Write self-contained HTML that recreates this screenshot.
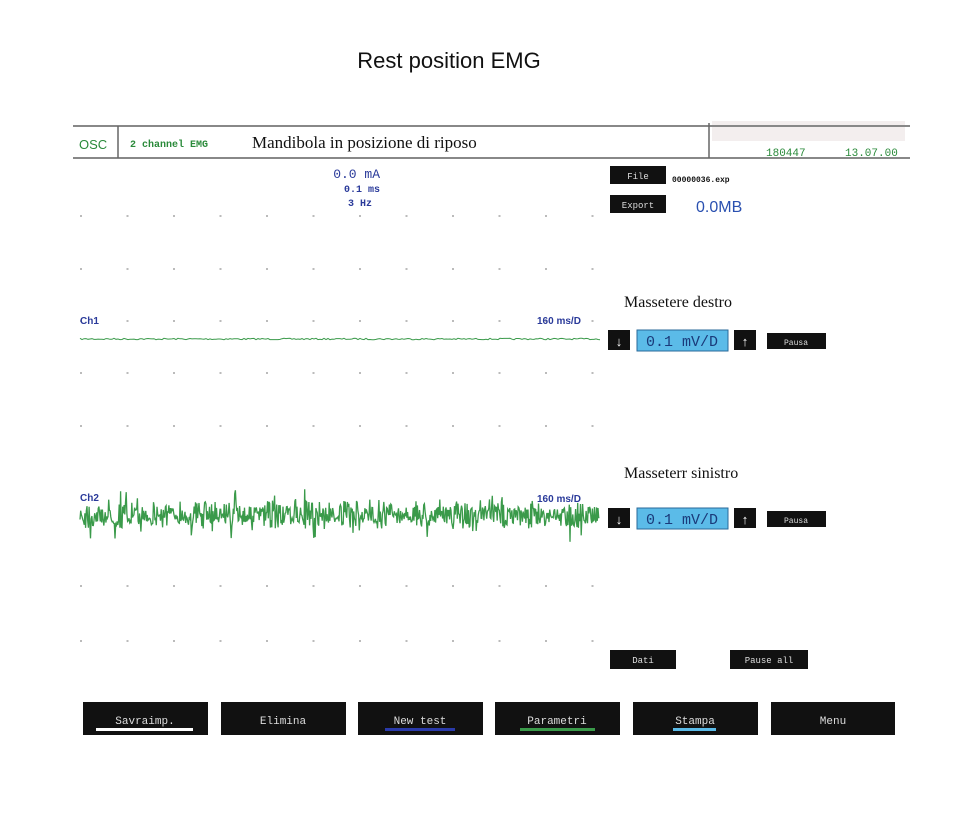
<!DOCTYPE html>
<html><head><meta charset="utf-8"><style>
html,body{margin:0;padding:0;background:#fff;}
svg{display:block;}
.m{font-family:"Liberation Mono",monospace;}
.s{font-family:"Liberation Sans",sans-serif;}
.r{font-family:"Liberation Serif",serif;}
</style></head><body>
<svg id="sv" width="956" height="834" viewBox="0 0 956 834" xmlns="http://www.w3.org/2000/svg">
<rect width="956" height="834" fill="#fff"/>
<text x="449" y="68" text-anchor="middle" class="s" font-size="22" fill="#111">Rest position EMG</text>
<rect x="712" y="121" width="193" height="20" fill="#f3eeee"/>
<line x1="73" y1="126" x2="910" y2="126" stroke="#888" stroke-width="2"/>
<line x1="73" y1="158" x2="910" y2="158" stroke="#888" stroke-width="2"/>
<line x1="118" y1="126" x2="118" y2="158" stroke="#666" stroke-width="1.5"/>
<line x1="709" y1="123" x2="709" y2="158" stroke="#666" stroke-width="1.5"/>
<text x="79" y="149" class="s" font-size="13" fill="#2a8a3a">OSC</text>
<text x="130" y="147" class="m" font-size="10" fill="#2a8a3a" font-weight="bold">2 channel EMG</text>
<text x="252" y="148" class="r" font-size="17" fill="#111">Mandibola in posizione di riposo</text>
<text x="766" y="156" class="m" font-size="11" fill="#2a8a3a">180447</text>
<text x="845" y="156" class="m" font-size="11" fill="#2a8a3a">13.07.00</text>
<text x="380" y="178" text-anchor="end" class="m" font-size="13" fill="#2a3a9a">0.0 mA</text>
<text x="380" y="192" text-anchor="end" class="m" font-size="10" fill="#2a3a9a" font-weight="bold">0.1 ms</text>
<text x="372" y="206" text-anchor="end" class="m" font-size="10" fill="#2a3a9a" font-weight="bold">3 Hz</text>
<rect x="610" y="166" width="56" height="18" fill="#111"/>
<text x="638" y="179" text-anchor="middle" class="m" font-size="9" fill="#ddd">File</text>
<text x="672" y="182" class="m" font-size="8" fill="#111" font-weight="bold">00000036.exp</text>
<rect x="610" y="195" width="56" height="18" fill="#111"/>
<text x="638" y="208" text-anchor="middle" class="m" font-size="9" fill="#ddd">Export</text>
<text x="696" y="212" class="s" font-size="16" fill="#2a50b0">0.0MB</text>
<g id="dots" fill="#bbb"></g>
<text x="80" y="324" class="s" font-size="10" fill="#2a3a9a" font-weight="bold">Ch1</text>
<text x="537" y="324" class="s" font-size="10" fill="#2a3a9a" font-weight="bold">160 ms/D</text>
<polyline id="t1" fill="none" stroke="#3a9a4a" stroke-width="1"/>
<text x="624" y="307" class="r" font-size="16" fill="#111">Massetere destro</text>
<g>
<rect x="608" y="330" width="22" height="20" fill="#111"/><text x="619" y="346" text-anchor="middle" class="s" font-size="13" fill="#fff">↓</text>
<rect x="637" y="330" width="91" height="21" fill="#5bbbe8" stroke="#2a6a9a"/><text x="682" y="346" text-anchor="middle" class="m" font-size="15" fill="#1a3a7a">0.1 mV/D</text>
<rect x="734" y="330" width="22" height="20" fill="#111"/><text x="745" y="346" text-anchor="middle" class="s" font-size="13" fill="#fff">↑</text>
<rect x="767" y="333" width="59" height="16" fill="#111"/><text x="796" y="345" text-anchor="middle" class="m" font-size="8" fill="#ddd">Pausa</text>
</g>
<text x="80" y="501" class="s" font-size="10" fill="#2a3a9a" font-weight="bold">Ch2</text>
<text x="537" y="502" class="s" font-size="10" fill="#2a3a9a" font-weight="bold">160 ms/D</text>
<polyline id="t2" fill="none" stroke="#3a9a4a" stroke-width="1.3"/>
<text x="624" y="478" class="r" font-size="16" fill="#111">Masseterr sinistro</text>
<g transform="translate(0,178)">
<rect x="608" y="330" width="22" height="20" fill="#111"/><text x="619" y="346" text-anchor="middle" class="s" font-size="13" fill="#fff">↓</text>
<rect x="637" y="330" width="91" height="21" fill="#5bbbe8" stroke="#2a6a9a"/><text x="682" y="346" text-anchor="middle" class="m" font-size="15" fill="#1a3a7a">0.1 mV/D</text>
<rect x="734" y="330" width="22" height="20" fill="#111"/><text x="745" y="346" text-anchor="middle" class="s" font-size="13" fill="#fff">↑</text>
<rect x="767" y="333" width="59" height="16" fill="#111"/><text x="796" y="345" text-anchor="middle" class="m" font-size="8" fill="#ddd">Pausa</text>
</g>
<rect x="610" y="650" width="66" height="19" fill="#111"/><text x="643" y="663" text-anchor="middle" class="m" font-size="9" fill="#ddd">Dati</text>
<rect x="730" y="650" width="78" height="19" fill="#111"/><text x="769" y="663" text-anchor="middle" class="m" font-size="9" fill="#ddd">Pause all</text>
<g class="m" font-size="11" fill="#ddd" text-anchor="middle">
<rect x="83" y="702" width="125" height="33" fill="#111"/><text x="145" y="724">Savraimp.</text><rect x="96" y="728" width="97" height="3" fill="#fff"/>
<rect x="221" y="702" width="125" height="33" fill="#111"/><text x="283" y="724">Elimina</text>
<rect x="358" y="702" width="125" height="33" fill="#111"/><text x="420" y="724">New test</text><rect x="385" y="728" width="70" height="3" fill="#2a3aaa"/>
<rect x="495" y="702" width="125" height="33" fill="#111"/><text x="557" y="724">Parametri</text><rect x="520" y="728" width="75" height="3" fill="#3a9a4a"/>
<rect x="633" y="702" width="125" height="33" fill="#111"/><text x="695" y="724">Stampa</text><rect x="673" y="728" width="43" height="3" fill="#5bbbe8"/>
<rect x="771" y="702" width="124" height="33" fill="#111"/><text x="833" y="724">Menu</text>
</g>
</svg>
<script>
(function(){
var ns="http://www.w3.org/2000/svg",g=document.getElementById("dots");
var rows=[215,268,320,372,425,585,640],cols=[];
for(var x=80;x<=600;x+=46.5)cols.push(x);
rows.forEach(function(y){cols.forEach(function(x){var r=document.createElementNS(ns,"rect");r.setAttribute("x",x);r.setAttribute("y",y);r.setAttribute("width",2);r.setAttribute("height",2);g.appendChild(r);});});
var s=7;function rnd(){s=(s*16807)%2147483647;return s/2147483647;}
var p1=[],p2=[];
for(var x=80;x<=600;x+=2){p1.push(x+","+(339+(rnd()-0.5)*1.5).toFixed(1));}
for(var x=80;x<=600;x+=0.7){var a=(rnd()<0.12?28:14);var b=Math.sin(x/6)>0?1:0.6;p2.push(x.toFixed(1)+","+(515+(rnd()-0.5)*2*a*b).toFixed(1));}
document.getElementById("t1").setAttribute("points",p1.join(" "));
document.getElementById("t2").setAttribute("points",p2.join(" "));
})();
</script>
</body></html>
